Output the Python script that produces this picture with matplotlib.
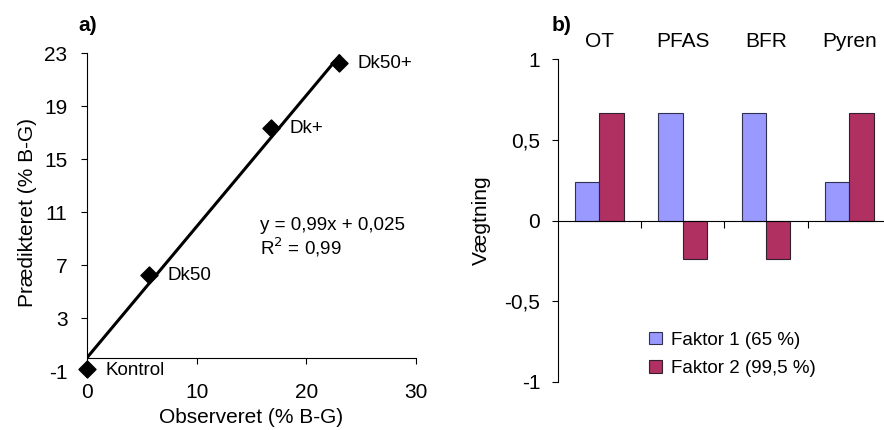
import numpy as np
import matplotlib.pyplot as plt

plt.rcParams['font.family'] = ['Liberation Sans', 'DejaVu Sans']
plt.rcParams['axes.unicode_minus'] = False

# panel a data
obs = [0, 5.65, 16.8, 23.0]
pred = [-0.85, 6.3, 17.4, 22.3]
point_names = ['Kontrol', 'Dk50', 'Dk+', 'Dk50+']
slope, intercept = 0.99, 0.025

# panel b data
stoffer = ['OT', 'PFAS', 'BFR', 'Pyren']
faktor1 = [0.236, 0.667, 0.667, 0.236]
faktor2 = [0.667, -0.238, -0.238, 0.667]

fs_tick = 15
fs_txt = 13.5
fig = plt.figure(figsize=(8.84, 4.3), dpi=100)

# ---- a) ----
ax1 = fig.add_axes([0.0984, 0.1365, 0.3722, 0.7395])
xl = np.array([0, 23.0])
ax1.plot(xl, slope * xl + intercept, color='black', lw=2.2, zorder=2)
ax1.scatter(obs, pred, marker='D', s=75, color='black', zorder=3, clip_on=False)
for x, y, name in zip(obs, pred, point_names):
    ax1.annotate(name, (x, y), xytext=(13, -1), textcoords='offset points',
                 va='center', ha='left', fontsize=fs_txt)
ax1.set_xlim(0, 30)
ax1.set_ylim(-1, 23)
ax1.set_xticks([0, 10, 20, 30])
ax1.set_yticks([-1, 3, 7, 11, 15, 19, 23])
ax1.spines['top'].set_visible(False)
ax1.spines['right'].set_visible(False)
ax1.spines['bottom'].set_position(('data', 0))
ax1.tick_params(axis='x', direction='out', length=4, pad=14, labelsize=fs_tick)
ax1.tick_params(axis='y', direction='out', length=4, pad=10, labelsize=fs_tick)
ax1.xaxis.get_major_ticks()[0].tick1line.set_visible(False)
ax1.set_xlabel('Observeret (% B-G)', fontsize=fs_tick, labelpad=4)
ax1.set_ylabel('Prædikteret (% B-G)', fontsize=fs_tick, labelpad=5)
ax1.text(15.8, 10.0, 'y = 0,99x + 0,025', fontsize=fs_txt, va='center', ha='left')
ax1.text(15.8, 8.35, 'R$^2$ = 0,99', fontsize=fs_txt, va='center', ha='left')
ax1.text(-0.027, 1.089, 'a)', transform=ax1.transAxes, fontsize=fs_tick,
         fontweight='bold', ha='left', va='center')

# ---- b) ----
ax2 = fig.add_axes([0.631, 0.1123, 0.377, 0.7497])
pos = np.arange(len(stoffer))
w = 0.292
ax2.bar(pos - w / 2, faktor1, w, color='#9999FF', edgecolor='#303050',
        lw=0.8, label='Faktor 1 (65 %)')
ax2.bar(pos + w / 2, faktor2, w, color='#B03062', edgecolor='#302030',
        lw=0.8, label='Faktor 2 (99,5 %)')
ax2.set_xlim(-0.5, 3.5)
ax2.set_ylim(-1, 1)
ax2.set_yticks([-1, -0.5, 0, 0.5, 1])
ax2.set_yticklabels(['-1', '-0,5', '0', '0,5', '1'])
ax2.set_xticks([0.5, 1.5, 2.5])
ax2.set_xticklabels([])
ax2.spines['top'].set_visible(False)
ax2.spines['right'].set_visible(False)
ax2.spines['bottom'].set_position(('data', 0))
ax2.tick_params(axis='x', direction='out', length=5)
ax2.tick_params(axis='y', direction='out', length=4.3, pad=8.4, labelsize=fs_tick)
for p, s in zip(pos, stoffer):
    ax2.text(p, 1.11, s, ha='center', va='center', fontsize=fs_tick)
ax2.set_ylabel('Vægtning', fontsize=fs_tick, labelpad=9.5)
ax2.text(-0.018, 1.106, 'b)', transform=ax2.transAxes, fontsize=fs_tick,
         fontweight='bold', ha='left', va='center')
ax2.legend(loc='upper left', bbox_to_anchor=(0.275, 0.155), frameon=False,
           borderpad=0, borderaxespad=0,
           fontsize=fs_txt, handlelength=0.65, handleheight=0.65,
           handletextpad=0.5, labelspacing=0.6)

fig.savefig('out.png', dpi=100)
